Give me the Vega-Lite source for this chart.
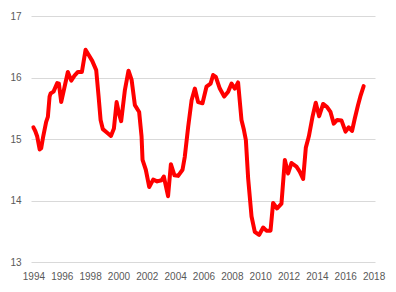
{
  "$schema": "https://vega.github.io/schema/vega-lite/v6.json",
  "width": 344,
  "height": 246,
  "autosize": {"type": "none"},
  "padding": {"left": 31, "top": 16, "right": 21, "bottom": 30},
  "background": "white",
  "config": {
    "view": {"stroke": null},
    "axis": {
      "labelFont": "Liberation Sans",
      "labelFontSize": 10,
      "labelColor": "#595959",
      "gridColor": "#d9d9d9",
      "gridWidth": 1,
      "domain": false,
      "ticks": false,
      "title": null
    }
  },
  "data": {
    "values": [
      {"t": 1994.0, "v": 15.19}, {"t": 1994.13, "v": 15.13}, {"t": 1994.27, "v": 15.04}, {"t": 1994.44, "v": 14.83},
      {"t": 1994.55, "v": 14.85}, {"t": 1994.69, "v": 15.04}, {"t": 1994.9, "v": 15.28}, {"t": 1995.02, "v": 15.36},
      {"t": 1995.14, "v": 15.69}, {"t": 1995.21, "v": 15.74}, {"t": 1995.42, "v": 15.77}, {"t": 1995.68, "v": 15.91},
      {"t": 1995.8, "v": 15.9}, {"t": 1995.96, "v": 15.6}, {"t": 1996.2, "v": 15.85}, {"t": 1996.43, "v": 16.09},
      {"t": 1996.67, "v": 15.95}, {"t": 1996.9, "v": 16.03}, {"t": 1997.14, "v": 16.09}, {"t": 1997.42, "v": 16.09},
      {"t": 1997.68, "v": 16.45}, {"t": 1997.84, "v": 16.39}, {"t": 1998.15, "v": 16.27}, {"t": 1998.43, "v": 16.12},
      {"t": 1998.6, "v": 15.69}, {"t": 1998.74, "v": 15.31}, {"t": 1998.9, "v": 15.16}, {"t": 1999.16, "v": 15.11},
      {"t": 1999.47, "v": 15.05}, {"t": 1999.68, "v": 15.17}, {"t": 1999.87, "v": 15.6}, {"t": 2000.03, "v": 15.42},
      {"t": 2000.19, "v": 15.29}, {"t": 2000.45, "v": 15.79}, {"t": 2000.71, "v": 16.11}, {"t": 2000.93, "v": 15.96},
      {"t": 2001.16, "v": 15.55}, {"t": 2001.46, "v": 15.44}, {"t": 2001.63, "v": 15.04}, {"t": 2001.7, "v": 14.66},
      {"t": 2001.93, "v": 14.5}, {"t": 2002.17, "v": 14.22}, {"t": 2002.45, "v": 14.34}, {"t": 2002.73, "v": 14.31},
      {"t": 2003.04, "v": 14.33}, {"t": 2003.2, "v": 14.39}, {"t": 2003.5, "v": 14.07}, {"t": 2003.7, "v": 14.59},
      {"t": 2003.95, "v": 14.41}, {"t": 2004.21, "v": 14.4}, {"t": 2004.52, "v": 14.5}, {"t": 2004.68, "v": 14.71},
      {"t": 2004.92, "v": 15.2}, {"t": 2005.16, "v": 15.63}, {"t": 2005.39, "v": 15.82}, {"t": 2005.62, "v": 15.6},
      {"t": 2005.93, "v": 15.58}, {"t": 2006.21, "v": 15.85}, {"t": 2006.5, "v": 15.9}, {"t": 2006.68, "v": 16.04},
      {"t": 2006.87, "v": 16.01}, {"t": 2007.15, "v": 15.82}, {"t": 2007.46, "v": 15.69}, {"t": 2007.74, "v": 15.77},
      {"t": 2007.98, "v": 15.9}, {"t": 2008.21, "v": 15.82}, {"t": 2008.44, "v": 15.92}, {"t": 2008.68, "v": 15.31},
      {"t": 2008.85, "v": 15.15}, {"t": 2008.99, "v": 14.98}, {"t": 2009.15, "v": 14.36}, {"t": 2009.39, "v": 13.74},
      {"t": 2009.62, "v": 13.49}, {"t": 2009.92, "v": 13.44}, {"t": 2010.21, "v": 13.56}, {"t": 2010.44, "v": 13.51},
      {"t": 2010.73, "v": 13.51}, {"t": 2010.91, "v": 13.96}, {"t": 2011.19, "v": 13.87}, {"t": 2011.5, "v": 13.95},
      {"t": 2011.74, "v": 14.66}, {"t": 2011.97, "v": 14.44}, {"t": 2012.21, "v": 14.61}, {"t": 2012.56, "v": 14.55},
      {"t": 2012.79, "v": 14.47}, {"t": 2013.03, "v": 14.35}, {"t": 2013.22, "v": 14.86}, {"t": 2013.43, "v": 15.04},
      {"t": 2013.69, "v": 15.36}, {"t": 2013.92, "v": 15.59}, {"t": 2014.16, "v": 15.37}, {"t": 2014.44, "v": 15.57},
      {"t": 2014.72, "v": 15.52}, {"t": 2014.96, "v": 15.44}, {"t": 2015.19, "v": 15.25}, {"t": 2015.43, "v": 15.31},
      {"t": 2015.74, "v": 15.3}, {"t": 2016.02, "v": 15.12}, {"t": 2016.25, "v": 15.19}, {"t": 2016.48, "v": 15.13},
      {"t": 2016.67, "v": 15.33}, {"t": 2016.9, "v": 15.55}, {"t": 2017.09, "v": 15.71}, {"t": 2017.3, "v": 15.86}
    ]
  },
  "mark": {"type": "line", "color": "#ff0000", "strokeWidth": 4, "strokeJoin": "round", "strokeCap": "round"},
  "encoding": {
    "x": {
      "field": "t",
      "type": "quantitative",
      "scale": {"domain": [1993.83, 2018.1], "nice": false, "zero": false},
      "axis": {
        "values": [1994, 1996, 1998, 2000, 2002, 2004, 2006, 2008, 2010, 2012, 2014, 2016, 2018],
        "format": "d",
        "grid": false,
        "labelPadding": 9
      }
    },
    "y": {
      "field": "v",
      "type": "quantitative",
      "scale": {"domain": [13, 17], "nice": false, "zero": false},
      "axis": {"values": [13, 14, 15, 16, 17], "format": "d", "labelPadding": 10}
    }
  }
}
